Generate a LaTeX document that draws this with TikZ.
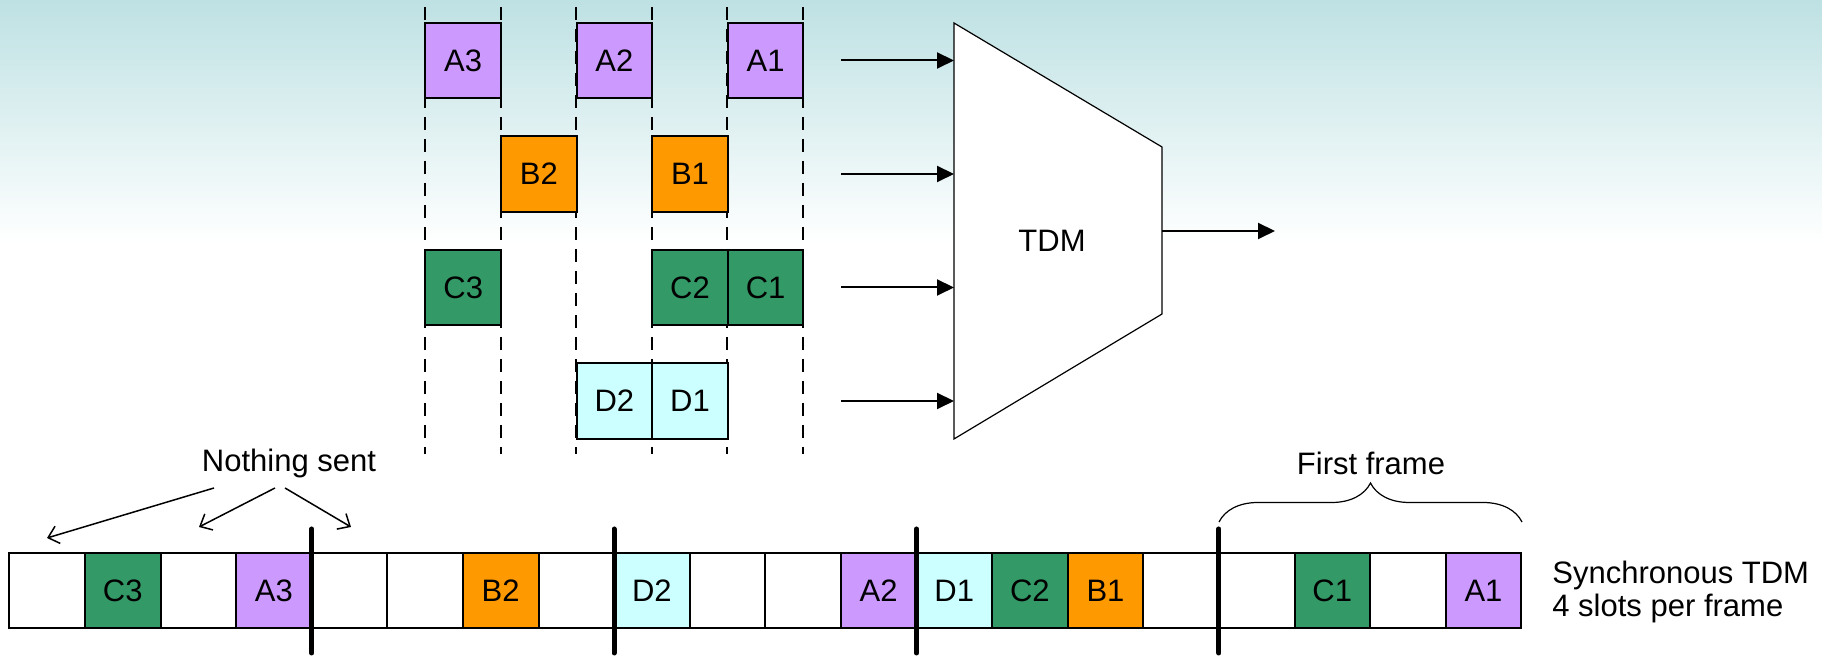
\documentclass[tikz,border=0pt]{standalone}
\usepackage{fontspec}
\setmainfont{Liberation Sans}
\usetikzlibrary{arrows.meta,decorations.pathreplacing}

\definecolor{bgteal}{RGB}{190,225,227}
\definecolor{apurple}{HTML}{CC99FF}
\definecolor{borange}{HTML}{FF9900}
\definecolor{cgreen}{HTML}{339966}
\definecolor{dcyan}{HTML}{CCFFFF}

\tikzset{
  txt/.style={font=\fontsize{15.5}{16.5}\selectfont, inner sep=0pt},
  cell/.style={txt, draw, line width=1pt, minimum width=37.8pt, minimum height=37.8pt},
  slot/.style={cell, minimum height=37.5pt},
  guide/.style={line width=1pt, dash pattern=on 6.5pt off 4.5pt},
  feed/.style={line width=1pt, -{Triangle[length=8.5pt,width=8pt]}},
  hint/.style={line width=0.75pt, -{Straight Barb[length=5pt,width=9pt]}},
  framesep/.style={line width=2.5pt, line cap=round}
}

\begin{document}
\begin{tikzpicture}[x=0.5pt, y=-0.5pt]
    \useasboundingbox (0,0) rectangle (1822,656);

    % Background
    \fill[white] (0,0) rectangle (1822,656);
    \shade[top color=bgteal, bottom color=white] (0,0) rectangle (1822,243);

    % The input streams
    \foreach \i in {0,...,5}
        \draw[guide] (425+75.6*\i,7) -- (425+75.6*\i,454);

    \node[cell, fill=apurple] (A3) at (463.2,60.5) {A3};
    \node[cell, fill=apurple] (A2) at (614.4,60.5) {A2};
    \node[cell, fill=apurple] (A1) at (765.6,60.5) {A1};

    \node[cell, fill=borange] (B2) at (538.8,174) {B2};
    \node[cell, fill=borange] (B1) at (690,174) {B1};

    \node[cell, fill=cgreen] (C3) at (463.2,287.5) {C3};
    \node[cell, fill=cgreen] (C2) at (690,287.5) {C2};
    \node[cell, fill=cgreen] (C1) at (765.6,287.5) {C1};

    \node[cell, fill=dcyan] (D2) at (614.4,401) {D2};
    \node[cell, fill=dcyan] (D1) at (690,401) {D1};

    % The multiplexer
    \coordinate (m1) at (954,23);
    \coordinate (m2) at (1162,147);
    \coordinate (m3) at (1162,314);
    \coordinate (m4) at (954,439);
    \draw[fill=white, line width=0.6pt] (m1) -- (m2) -- (m3) -- (m4) -- cycle;
    \node[txt, anchor=base] (tdm) at (1052,252) {TDM};

    \coordinate (inA) at (841,60.5);
    \coordinate (inB) at (841,174);
    \coordinate (inC) at (841,287.5);
    \coordinate (inD) at (841,401);
    \coordinate (out) at (1275,231);
    \draw[feed] (inA) -- (inA -| m1);
    \draw[feed] (inB) -- (inB -| m1);
    \draw[feed] (inC) -- (inC -| m1);
    \draw[feed] (inD) -- (inD -| m1);
    \draw[feed] (out -| m2) -- (out);

    % The output frames
    \foreach \lab/\col [count=\i from 0] in {{}/white, C3/cgreen, {}/white, A3/apurple,
            {}/white, {}/white, B2/borange, {}/white,
            D2/dcyan, {}/white, {}/white, A2/apurple,
            D1/dcyan, C2/cgreen, B1/borange, {}/white,
            {}/white, C1/cgreen, {}/white, A1/apurple}
        \node[slot, fill=\col] (f\i) at (47.1+75.6*\i,590.5) {\lab};

    \foreach \k in {4,8,12,16}
        \draw[framesep] (9.3+75.6*\k,529) -- (9.3+75.6*\k,653);

    % Labels
    \node[txt, anchor=base] (nothing) at (289,472) {Nothing sent};
    \coordinate (ns1) at (214,488);
    \coordinate (ns2) at (275,488);
    \coordinate (ns3) at (285,488);
    \coordinate (ne1) at (47,538);
    \coordinate (ne2) at (199,527);
    \coordinate (ne3) at (351,527);
    \draw[hint] (ns1) -- (ne1);
    \draw[hint] (ns2) -- (ne2);
    \draw[hint] (ns3) -- (ne3);

    \draw[line width=0.6pt, decorate, decoration={brace, amplitude=19.5pt}]
        (1219,522) -- (1522,522);
    \node[txt, anchor=base] (first) at (1371,475) {First frame};

    \node[txt, anchor=base west, align=left] (sync) at (1552,617)
        {Synchronous TDM\\4 slots per frame};
\end{tikzpicture}
\end{document}
